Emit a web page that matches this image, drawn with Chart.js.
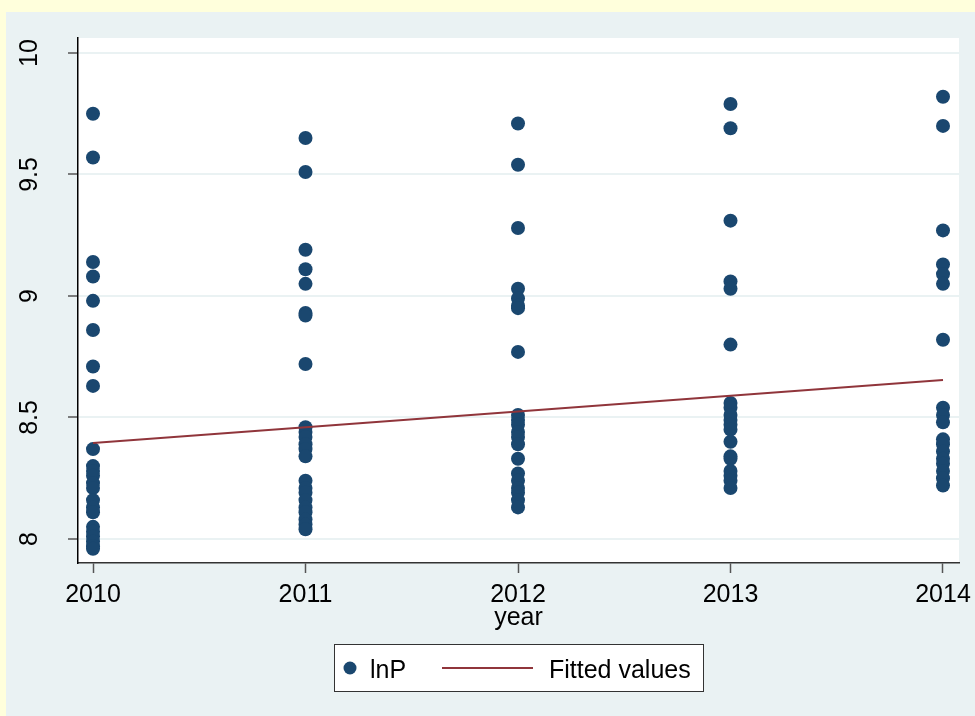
<!DOCTYPE html>
<html>
<head>
<meta charset="utf-8">
<style>
  html, body { margin: 0; padding: 0; background: #FFFFDC; }
  #wrap { width: 975px; height: 716px; position: relative; }
  canvas { display: block; }
</style>
<script src="https://cdn.jsdelivr.net/npm/chart.js@4.4.1/dist/chart.umd.min.js"></script>
</head>
<body>
<div id="wrap"><canvas id="c" width="975" height="716"></canvas></div>
<script>
// Observed ln(price) values by year
const years = [2010, 2011, 2012, 2013, 2014];
const lnP2010 = [9.75, 9.57, 9.14, 9.08, 8.98, 8.86, 8.71, 8.63, 8.37, 8.30, 8.28, 8.26, 8.23, 8.21, 8.16, 8.13, 8.11, 8.05, 8.03, 8.01, 7.99, 7.97, 7.96];
const lnP2011 = [9.65, 9.51, 9.19, 9.11, 9.05, 8.93, 8.92, 8.72, 8.46, 8.44, 8.42, 8.39, 8.37, 8.34, 8.24, 8.21, 8.19, 8.16, 8.13, 8.11, 8.08, 8.06, 8.04];
const lnP2012 = [9.71, 9.54, 9.28, 9.03, 8.99, 8.96, 8.95, 8.77, 8.51, 8.49, 8.47, 8.44, 8.42, 8.39, 8.33, 8.27, 8.24, 8.21, 8.19, 8.16, 8.13];
const lnP2013 = [9.79, 9.69, 9.31, 9.06, 9.03, 8.80, 8.56, 8.54, 8.51, 8.49, 8.47, 8.45, 8.40, 8.34, 8.33, 8.28, 8.26, 8.24, 8.21];
const lnP2014 = [9.82, 9.70, 9.27, 9.13, 9.09, 9.05, 8.82, 8.54, 8.51, 8.48, 8.41, 8.39, 8.36, 8.33, 8.31, 8.28, 8.25, 8.22];
const lnPByYear = [lnP2010, lnP2011, lnP2012, lnP2013, lnP2014];
// Linear fit endpoints
const fitYears = [2010, 2014];
const fitValues = [8.395, 8.654];
const yTicks = [8, 8.5, 9, 9.5, 10];
const xTicks = [2010, 2011, 2012, 2013, 2014];
const seriesNames = ['lnP', 'Fitted values'];
const xTitle = 'year';

const NAVY = '#1A476F';
const MAROON = '#90353B';
const FONT = '"Liberation Sans", Arial, sans-serif';

const scatterPts = [];
lnPByYear.forEach((arr, i) => arr.forEach(v => scatterPts.push({ x: years[i], y: v })));
const fitPts = fitYears.map((x, i) => ({ x, y: fitValues[i] }));

const backdrop = {
  id: 'backdrop',
  beforeDraw(chart) {
    const { ctx, chartArea: a } = chart;
    ctx.save();
    ctx.fillStyle = '#FFFFDC';
    ctx.fillRect(0, 0, chart.width, chart.height);
    ctx.fillStyle = '#EAF2F3';
    ctx.fillRect(6, 12, chart.width - 6, chart.height - 12);
    ctx.fillStyle = '#FFFFFF';
    ctx.fillRect(a.left, a.top, a.right - a.left, a.bottom - a.top);
    ctx.restore();
  }
};

const labels = {
  id: 'labels',
  afterDraw(chart) {
    const { ctx, chartArea: a } = chart;
    const xs = chart.scales.x, ys = chart.scales.y;
    ctx.save();
    ctx.fillStyle = '#000';
    ctx.font = '25px ' + FONT;
    // y tick labels, rotated
    ctx.textAlign = 'center';
    ctx.textBaseline = 'alphabetic';
    yTicks.forEach(v => {
      const py = ys.getPixelForValue(v);
      ctx.save();
      ctx.translate(37, py);
      ctx.rotate(-Math.PI / 2);
      ctx.fillText(String(v), 0, 0);
      ctx.restore();
    });
    // x tick labels
    xTicks.forEach(v => {
      ctx.fillText(String(v), xs.getPixelForValue(v), 602);
    });
    // x axis title
    ctx.fillText(xTitle, (a.left + a.right) / 2, 625);

    // legend
    const bx = 334, by = 644, bw = 369, bh = 47;
    ctx.fillStyle = '#FFFFFF';
    ctx.fillRect(bx, by, bw, bh);
    ctx.strokeStyle = '#333';
    ctx.lineWidth = 1;
    ctx.strokeRect(bx + 0.5, by + 0.5, bw, bh);
    ctx.fillStyle = NAVY;
    ctx.beginPath();
    ctx.arc(350, 668, 6.5, 0, Math.PI * 2);
    ctx.fill();
    ctx.strokeStyle = MAROON;
    ctx.lineWidth = 2;
    ctx.beginPath();
    ctx.moveTo(442, 668);
    ctx.lineTo(533, 668);
    ctx.stroke();
    ctx.fillStyle = '#000';
    ctx.textAlign = 'left';
    ctx.fillText(seriesNames[0], 370, 678);
    ctx.fillText(seriesNames[1], 549, 678);
    ctx.restore();
  }
};

new Chart(document.getElementById('c'), {
  type: 'scatter',
  data: {
    datasets: [
      {
        label: seriesNames[0],
        data: scatterPts,
        backgroundColor: NAVY,
        borderWidth: 0,
        pointRadius: 7,
        pointHoverRadius: 7,
        order: 2
      },
      {
        label: seriesNames[1],
        data: fitPts,
        showLine: true,
        borderColor: MAROON,
        borderWidth: 2,
        pointRadius: 0,
        fill: false,
        order: 1
      }
    ]
  },
  options: {
    responsive: false,
    animation: false,
    events: [],
    layout: { padding: { left: 0, top: 38, right: 16, bottom: 0 } },
    plugins: { legend: { display: false }, tooltip: { enabled: false } },
    scales: {
      x: {
        type: 'linear',
        min: 2009.9294,
        max: 2014.0753,
        afterBuildTicks: s => { s.ticks = xTicks.map(v => ({ value: v })); },
        afterFit: s => { s.height = 716 - 563; },
        ticks: { display: false },
        grid: { drawOnChartArea: false, drawTicks: true, tickLength: 10, tickColor: '#555', tickWidth: 1.5 },
        border: { display: true, color: '#333', width: 1.5 }
      },
      y: {
        type: 'linear',
        min: 7.9012,
        max: 10.0617,
        afterBuildTicks: s => { s.ticks = yTicks.map(v => ({ value: v })); },
        afterFit: s => { s.width = 78; },
        ticks: { display: false },
        grid: { color: '#EAF2F3', lineWidth: 2, drawTicks: true, tickLength: 10, tickColor: '#555', tickWidth: 1.5 },
        border: { display: true, color: '#000', width: 1.5 }
      }
    }
  },
  plugins: [backdrop, labels]
});
</script>
</body>
</html>
